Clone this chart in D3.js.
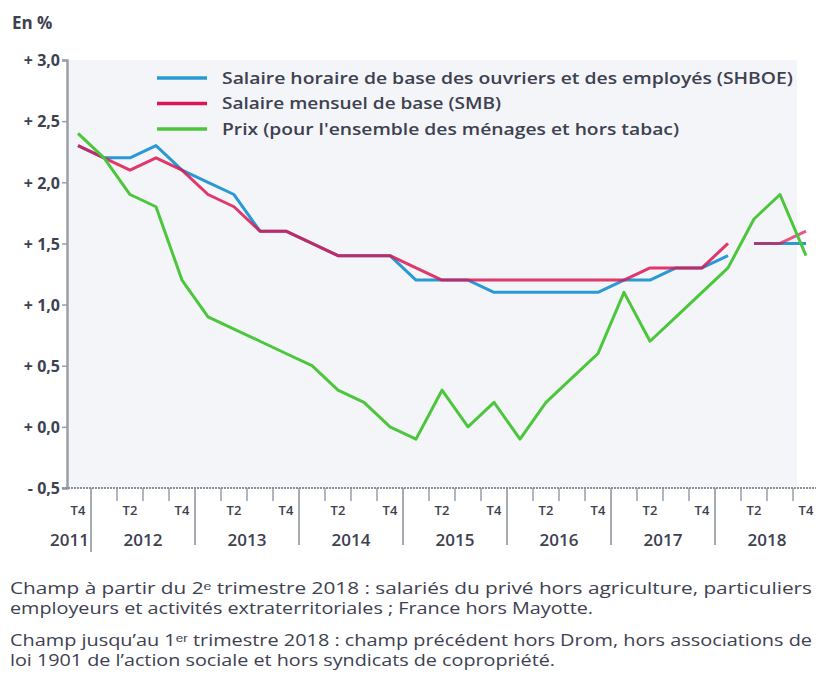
<!DOCTYPE html>
<html>
<head>
<meta charset="utf-8">
<script src="https://d3js.org/d3.v7.min.js"></script>
<style>
  body { margin: 0; background: #fff; }
  text { font-family: "Open Sans", sans-serif; fill: #3d4150; }
</style>
</head>
<body>
<svg id="chart" width="816" height="679"></svg>
<script>
  // trimestres de 2011 T4 a 2018 T4
  let quarters = ["T4","T1","T2","T3","T4","T1","T2","T3","T4","T1","T2","T3","T4",
    "T1","T2","T3","T4","T1","T2","T3","T4","T1","T2","T3","T4","T1","T2","T3","T4"];
  let years = ["2011","2012","2013","2014","2015","2016","2017","2018"];

  // null = rupture de serie (changement de champ)
  let shboe = [2.3,2.2,2.2,2.3,2.1,2.0,1.9,1.6,1.6,1.5,1.4,1.4,1.4,1.2,1.2,1.2,1.1,
    1.1,1.1,1.1,1.1,1.2,1.2,1.3,1.3,1.4,null,null,null];
  let shboe2 = [null,null,null,null,null,null,null,null,null,null,null,null,null,null,null,null,null,
    null,null,null,null,null,null,null,null,null,1.5,1.5,1.5];
  let smb = [2.3,2.2,2.1,2.2,2.1,1.9,1.8,1.6,1.6,1.5,1.4,1.4,1.4,1.3,1.2,1.2,1.2,
    1.2,1.2,1.2,1.2,1.2,1.3,1.3,1.3,1.5,null,null,null];
  let smb2 = [null,null,null,null,null,null,null,null,null,null,null,null,null,null,null,null,null,
    null,null,null,null,null,null,null,null,null,1.5,1.5,1.6];
  let prix = [2.4,2.2,1.9,1.8,1.2,0.9,0.8,0.7,0.6,0.5,0.3,0.2,0.0,-0.1,0.3,0.0,0.2,
    -0.1,0.2,0.4,0.6,1.1,0.7,0.9,1.1,1.3,1.7,1.9,1.4];

  let yTicks = [-0.5,0,0.5,1,1.5,2,2.5,3];

  let legendLabels = [
    "Salaire horaire de base des ouvriers et des employés (SHBOE)",
    "Salaire mensuel de base (SMB)",
    "Prix (pour l'ensemble des ménages et hors tabac)"
  ];
  let colors = ["#2b9ad4", "#dc1652", "#4cc73c"];

  let svg = d3.select("#chart");

  let x = d3.scaleLinear().domain([0, quarters.length - 1]).range([78, 806]);
  let y = d3.scaleLinear().domain([-0.5, 3]).range([488, 60]);

  // fond de la zone de trace
  svg.append("rect")
    .attr("x", 68).attr("y", y(3))
    .attr("width", 797 - 68).attr("height", y(-0.5) - y(3))
    .attr("fill", "#f3f5f8");

  svg.append("text")
    .attr("x", 12).attr("y", 29)
    .style("font-size", "17px").style("font-weight", 700)
    .text("En %");

  // axe vertical
  let fmt = v => (v < 0 ? "- " : "+ ") + d3.format(".1f")(Math.abs(v)).replace(".", ",");
  let yAxis = svg.append("g")
    .attr("transform", "translate(67,0)")
    .call(d3.axisLeft(y).tickValues(yTicks).tickFormat(fmt).tickSize(5).tickPadding(2));
  yAxis.select(".domain").attr("stroke", "#9aa0a8").attr("stroke-width", 2.5);
  yAxis.selectAll(".tick line").attr("stroke", "#9aa0a8").attr("stroke-width", 1.5);
  yAxis.selectAll(".tick text")
    .attr("dy", "0.36em")
    .style("font-size", "16px").style("font-weight", 700)
    .style("font-family", "'Open Sans', sans-serif")
    .attr("fill", "#3d4150");

  // axe horizontal
  svg.append("line")
    .attr("x1", 62).attr("x2", 816)
    .attr("y1", y(-0.5)).attr("y2", y(-0.5))
    .attr("stroke", "#8a8f98").attr("stroke-width", 2)
    .attr("stroke-dasharray", "2,1");

  let bounds = d3.range(0.5, quarters.length - 0.5 + 0.01, 1);
  svg.append("g").selectAll("line")
    .data(bounds)
    .join("line")
    .attr("x1", d => x(d)).attr("x2", d => x(d))
    .attr("y1", y(-0.5))
    .attr("y2", (d, i) => i % 4 === 0 ? (i === 0 ? 552 : 545) : 501)
    .attr("stroke", "#8a8f98")
    .attr("stroke-width", (d, i) => i % 4 === 0 ? 1.5 : 1.3);

  svg.append("g").selectAll("text")
    .data(quarters)
    .join("text")
    .attr("x", (d, i) => x(i)).attr("y", 515)
    .attr("text-anchor", "middle")
    .style("font-size", "13px").style("font-weight", 600)
    .text((d, i) => (d === "T2" || d === "T4") ? d : "");

  svg.append("g").selectAll("text")
    .data(years)
    .join("text")
    .attr("x", (d, i) => i === 0 ? x(0.5) - 2 : x(4 * i - 1.5))
    .attr("y", 546)
    .attr("text-anchor", (d, i) => i === 0 ? "end" : "middle")
    .style("font-size", "17px").style("font-weight", 600)
    .text(d => d);

  // courbes : le SMB passe par-dessus le SHBOE, un peu transparent
  let line = d3.line()
    .defined(d => d !== null)
    .x((d, i) => x(i))
    .y(d => y(d));

  let series = [
    { values: shboe, color: colors[0], op: 1 },
    { values: shboe2, color: colors[0], op: 1 },
    { values: smb, color: colors[1], op: 0.85 },
    { values: smb2, color: colors[1], op: 0.7 },
    { values: prix, color: colors[2], op: 1 }
  ];
  svg.append("g").selectAll("path")
    .data(series)
    .join("path")
    .attr("d", d => line(d.values))
    .attr("fill", "none")
    .attr("stroke", d => d.color)
    .attr("stroke-opacity", d => d.op)
    .attr("stroke-width", 3)
    .attr("stroke-linejoin", "round");

  // legende
  let legendW = [571, 279, 457];
  let leg = svg.append("g").selectAll("g")
    .data(legendLabels)
    .join("g")
    .attr("transform", (d, i) => `translate(157,${78 + i * 25.5})`);
  leg.append("line")
    .attr("x1", 0).attr("x2", 50)
    .attr("stroke", (d, i) => colors[i])
    .attr("stroke-width", 3.5);
  leg.append("text")
    .attr("x", 65).attr("dy", "0.36em")
    .attr("textLength", (d, i) => legendW[i])
    .attr("lengthAdjust", "spacingAndGlyphs")
    .style("font-size", "16px").style("font-weight", 600)
    .text(d => d);

  // notes
  let notes = [
    "Champ à partir du 2ᵉ trimestre 2018 : salariés du privé hors agriculture, particuliers",
    "employeurs et activités extraterritoriales ; France hors Mayotte.",
    "Champ jusqu’au 1ᵉʳ trimestre 2018 : champ précédent hors Drom, hors associations de",
    "loi 1901 de l’action sociale et hors syndicats de copropriété."
  ];
  let noteY = [594, 614, 646, 666];
  let noteW = [802, 583, 802, 545];
  svg.append("g").selectAll("text")
    .data(notes)
    .join("text")
    .attr("x", 10).attr("y", (d, i) => noteY[i])
    .attr("textLength", (d, i) => noteW[i])
    .attr("lengthAdjust", "spacingAndGlyphs")
    .style("font-size", "16px").style("font-weight", 500)
    .text(d => d);
</script>
</body>
</html>
